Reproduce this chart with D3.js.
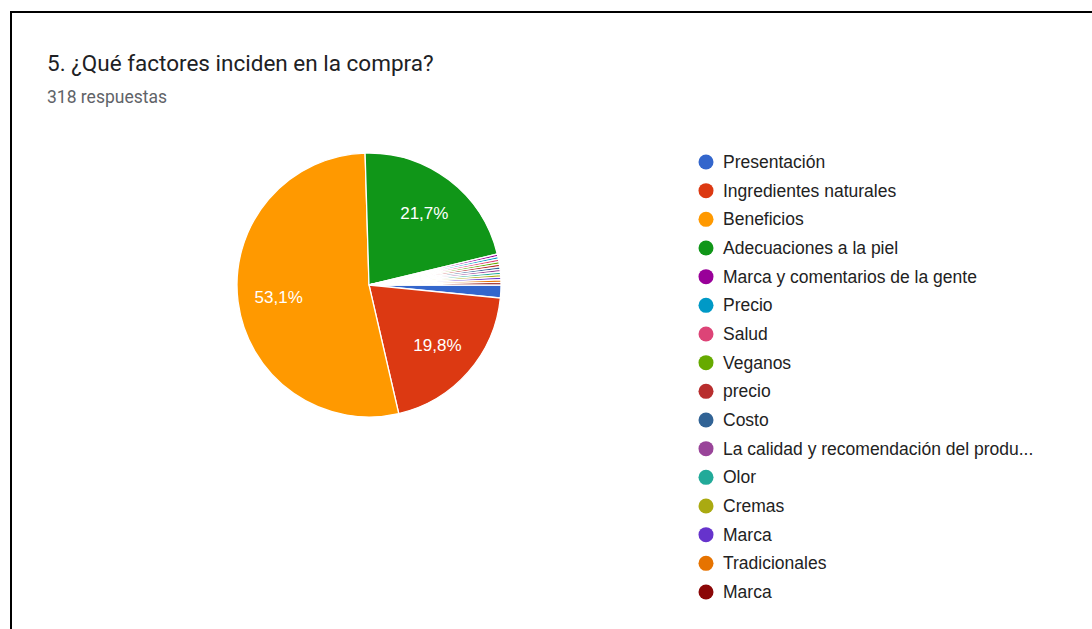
<!DOCTYPE html>
<html>
<head>
<meta charset="utf-8">
<script src="https://cdn.jsdelivr.net/npm/d3@7"></script>
<style>
  html, body { margin: 0; padding: 0; background: #fff; }
  svg { display: block; }
</style>
</head>
<body>
<svg id="chart" width="1092" height="629"></svg>
<script>
// Responses per option (318 total)
const categories = [
  "Presentación",
  "Ingredientes naturales",
  "Beneficios",
  "Adecuaciones a la piel",
  "Marca y comentarios de la gente",
  "Precio",
  "Salud",
  "Veganos",
  "precio",
  "Costo",
  "La calidad y recomendación del produ...",
  "Olor",
  "Cremas",
  "Marca",
  "Tradicionales",
  "Marca"
];
const counts = [5, 63, 169, 69, 1, 1, 1, 1, 1, 1, 1, 1, 1, 1, 1, 1];
const palette = [
  "#3366cc", "#dc3912", "#ff9900", "#109618", "#990099", "#0099c6",
  "#dd4477", "#66aa00", "#b82e2e", "#316395", "#994499", "#22aa99",
  "#aaaa11", "#6633cc", "#e67300", "#8b0707"
];
const title = "5. ¿Qué factores inciden en la compra?";
const subtitle = "318 respuestas";

const svg = d3.select("#chart");
const total = d3.sum(counts);
const data = categories.map((c, i) => ({ name: c, value: counts[i], color: palette[i] }));

// frame lines along the top and left
svg.append("path")
  .attr("d", "M11,629 V12 H1092")
  .attr("fill", "none")
  .attr("stroke", "#000")
  .attr("stroke-width", 2);

svg.append("text")
  .attr("x", 47).attr("y", 71)
  .attr("font-family", "Roboto, sans-serif")
  .attr("font-size", 22.5)
  .attr("fill", "#202124")
  .text(title);

svg.append("text")
  .attr("x", 47).attr("y", 103)
  .attr("font-family", "Roboto, sans-serif")
  .attr("font-size", 17.5)
  .attr("fill", "#5f6368")
  .text(subtitle);

// pie, starting at three o'clock and running clockwise
const cx = 369, cy = 285, R = 132;
const start = Math.PI / 2;
const pie = d3.pie().value(d => d.value).sort(null)
  .startAngle(start).endAngle(start + 2 * Math.PI);
const arc = d3.arc().innerRadius(0).outerRadius(R);
const labelArc = d3.arc().innerRadius(R * 0.69).outerRadius(R * 0.69);

const g = svg.append("g").attr("transform", `translate(${cx},${cy})`);
const arcs = pie(data);
g.selectAll("path.slice").data(arcs).join("path")
  .attr("class", "slice")
  .attr("d", arc)
  .attr("fill", d => d.data.color)
  .attr("stroke", "#fff")
  .attr("stroke-width", 1.3);

const fmt = v => (v * 100).toFixed(1).replace(".", ",") + "%";
g.selectAll("text.pct").data(arcs.filter(d => d.value / total > 0.05)).join("text")
  .attr("class", "pct")
  .attr("transform", d => `translate(${labelArc.centroid(d)})`)
  .attr("text-anchor", "middle")
  .attr("dy", "0.35em")
  .attr("font-family", "Arial, 'Liberation Sans', sans-serif")
  .attr("font-size", 17)
  .attr("fill", "#fff")
  .text(d => fmt(d.value / total));

// legend
const legendY = d3.scaleLinear().domain([0, categories.length - 1]).range([162, 592]);
const lg = svg.append("g");
const rows = lg.selectAll("g").data(data).join("g")
  .attr("transform", (d, i) => `translate(706,${legendY(i)})`);
rows.append("circle").attr("r", 7.5).attr("fill", d => d.color);
rows.append("text")
  .attr("x", 17).attr("dy", "0.35em")
  .attr("font-family", "Arial, 'Liberation Sans', sans-serif")
  .attr("font-size", 17.5)
  .attr("fill", "#222")
  .text(d => d.name);
</script>
</body>
</html>
